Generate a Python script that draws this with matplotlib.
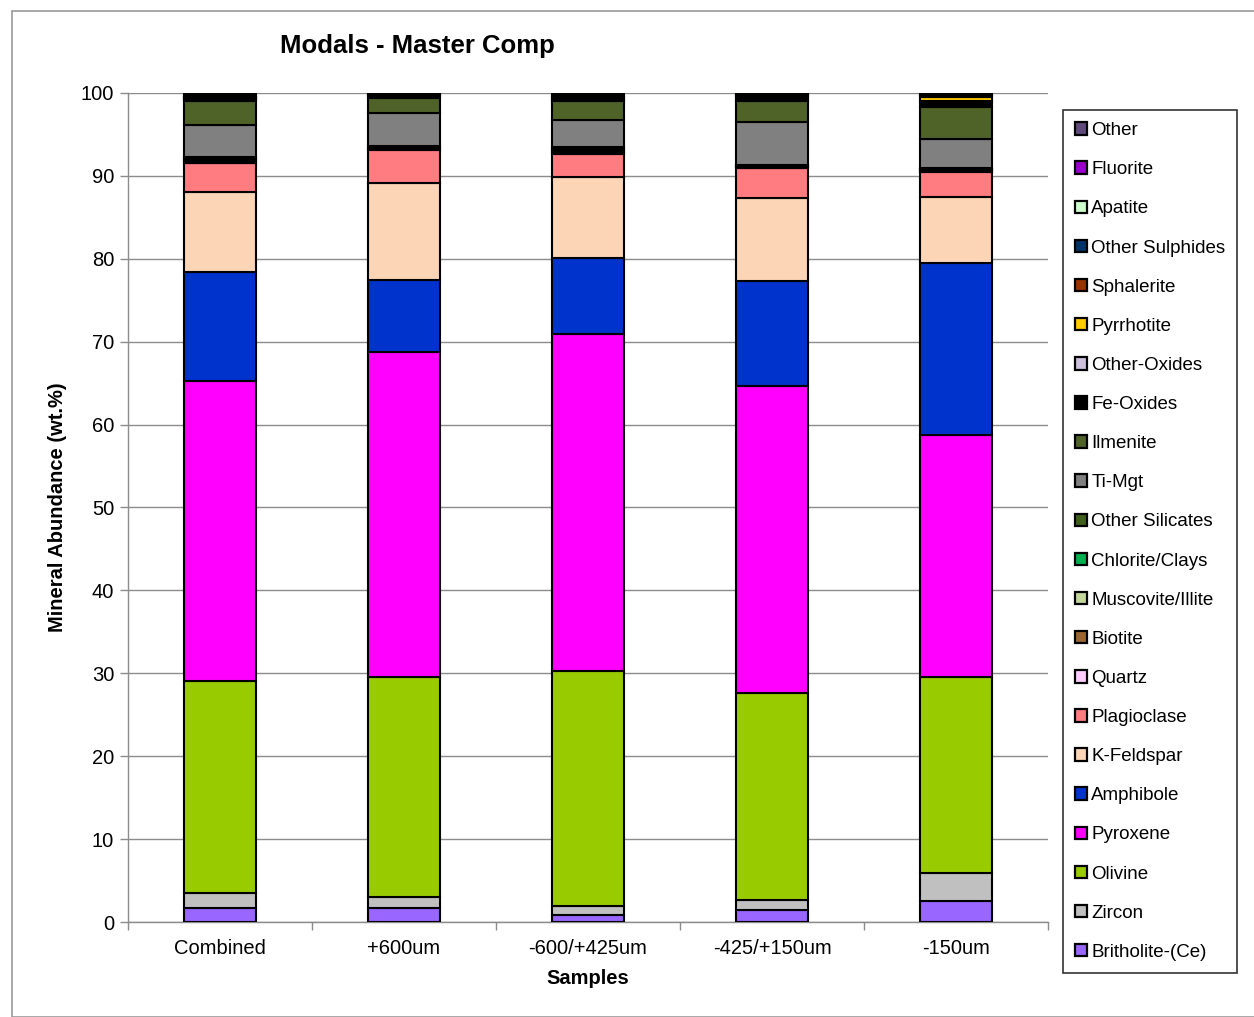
#!/usr/bin/env python3

import matplotlib

matplotlib.use("Agg")
import matplotlib.pyplot as plt
import matplotlib.patches as patches
import numpy as np

# samples along the x axis
samples = ["Combined", "+600um", "-600/+425um", "-425/+150um", "-150um"]

# minerals in stacking order (bottom to top)
minerals = [
    "Britholite-(Ce)", "Zircon", "Olivine", "Pyroxene", "Amphibole",
    "K-Feldspar", "Plagioclase", "Quartz", "Biotite", "Muscovite/Illite",
    "Chlorite/Clays", "Other Silicates", "Ti-Mgt", "Ilmenite", "Fe-Oxides",
    "Other-Oxides", "Pyrrhotite", "Sphalerite", "Other Sulphides", "Apatite",
    "Fluorite", "Other",
]

# wt.% per sample, one list per mineral
britholite = [1.7, 1.7, 0.9, 1.4, 2.5]
zircon = [1.8, 1.3, 1.0, 1.3, 3.4]
olivine = [25.6, 26.6, 28.4, 24.9, 23.6]
pyroxene = [36.2, 39.1, 40.6, 37.0, 29.2]
amphibole = [13.1, 8.8, 9.2, 12.7, 20.8]
k_feldspar = [9.7, 11.7, 9.8, 10.0, 8.0]
plagioclase = [3.4, 3.9, 2.8, 3.6, 3.0]
quartz = [0.1, 0.1, 0.1, 0.1, 0.1]
biotite = [0.2, 0.1, 0.2, 0.1, 0.1]
muscovite = [0.1, 0.05, 0.1, 0.05, 0.1]
chlorite = [0.1, 0.05, 0.1, 0.05, 0.1]
other_silicates = [0.3, 0.2, 0.3, 0.1, 0.1]
ti_mgt = [3.8, 4.0, 3.2, 5.2, 3.4]
ilmenite = [2.9, 1.8, 2.3, 2.5, 3.9]
fe_oxides = [0.2, 0.2, 0.2, 0.5, 0.7]
other_oxides = [0.05, 0.05, 0.05, 0.05, 0.05]
pyrrhotite = [0.1, 0.05, 0.05, 0.05, 0.5]
sphalerite = [0.2, 0.1, 0.2, 0.1, 0.05]
other_sulphides = [0.05, 0.05, 0.05, 0.05, 0.05]
apatite = [0.05, 0.05, 0.05, 0.05, 0.05]
fluorite = [0.02, 0.02, 0.02, 0.02, 0.02]
other = [0.2, 0.1, 0.2, 0.2, 0.1]

values = [
    britholite, zircon, olivine, pyroxene, amphibole, k_feldspar, plagioclase,
    quartz, biotite, muscovite, chlorite, other_silicates, ti_mgt, ilmenite,
    fe_oxides, other_oxides, pyrrhotite, sphalerite, other_sulphides, apatite,
    fluorite, other,
]

colors = [
    "#9966FF", "#C0C0C0", "#99CC00", "#FF00FF", "#0033CC",
    "#FBD5B5", "#FF7C80", "#FFCCFF", "#996633", "#C3D69B",
    "#00B050", "#3F5F1A", "#808080", "#4F6228", "#000000",
    "#CCC0DA", "#FFCC00", "#993300", "#003366", "#CCFFCC",
    "#9900CC", "#604A7B",
]

plt.rcParams["font.family"] = ["Liberation Sans", "DejaVu Sans"]

fig = plt.figure(figsize=(12.54, 10.17), dpi=100)
W, H = 1254, 1017

# chart area border
fig.patches.append(
    patches.Rectangle(
        (12 / W, 0), 1.0, 1 - 11 / H, transform=fig.transFigure,
        fill=False, edgecolor="#9a9a9a", linewidth=1.2,
    )
)

ax = fig.add_axes([128 / W, 1 - 922 / H, (1048 - 128) / W, (922 - 93) / H])

x = np.arange(len(samples))
bottom = np.zeros(len(samples))
for name, vals, col in zip(minerals, values, colors):
    ax.bar(
        x, vals, 0.39, bottom=bottom, color=col, edgecolor="black",
        linewidth=1.5, label=name, zorder=3,
    )
    bottom += np.array(vals)

ax.set_xlim(-0.5, len(samples) - 0.5)
ax.set_ylim(0, 100)
ax.set_yticks(range(0, 101, 10))
ax.yaxis.grid(True, color="#8c8c8c", linewidth=1.0)
ax.set_axisbelow(True)

ax.set_xticks(x)
ax.set_xticklabels(samples)
ax.set_xticks(np.arange(-0.5, len(samples)), minor=True)
ax.tick_params(axis="x", which="major", length=0, labelsize=14.5, pad=12)
ax.tick_params(axis="x", which="minor", length=6, color="#8c8c8c", width=1.0)
ax.tick_params(axis="y", length=6, color="#8c8c8c", width=1.0, labelsize=14.5, pad=4)

for s in ["top", "right"]:
    ax.spines[s].set_visible(False)
for s in ["left", "bottom"]:
    ax.spines[s].set_color("#8c8c8c")
    ax.spines[s].set_linewidth(1.0)

ax.set_xlabel("Samples", fontsize=14.5, fontweight="bold", labelpad=8)
ax.set_ylabel("Mineral Abundance (wt.%)", fontsize=14.5, fontweight="bold", labelpad=10)

fig.text(417 / W, 1 - 46 / H, "Modals - Master Comp", ha="center", va="center",
         fontsize=18.5, fontweight="bold")

# legend, top entry first
handles, labels = ax.get_legend_handles_labels()
leg = fig.legend(
    handles[::-1], labels[::-1],
    loc="upper left", bbox_to_anchor=(1063 / W, 1 - 110 / H),
    fontsize=13.5, frameon=True, fancybox=False, borderaxespad=0,
    handlelength=0.65, handleheight=0.65, handletextpad=0.2,
    labelspacing=1.18, borderpad=0.65,
)
leg.get_frame().set_edgecolor("black")
leg.get_frame().set_linewidth(1.2)
for h in leg.legend_handles:
    h.set_linewidth(1.6)

fig.savefig("out.png", dpi=100)
